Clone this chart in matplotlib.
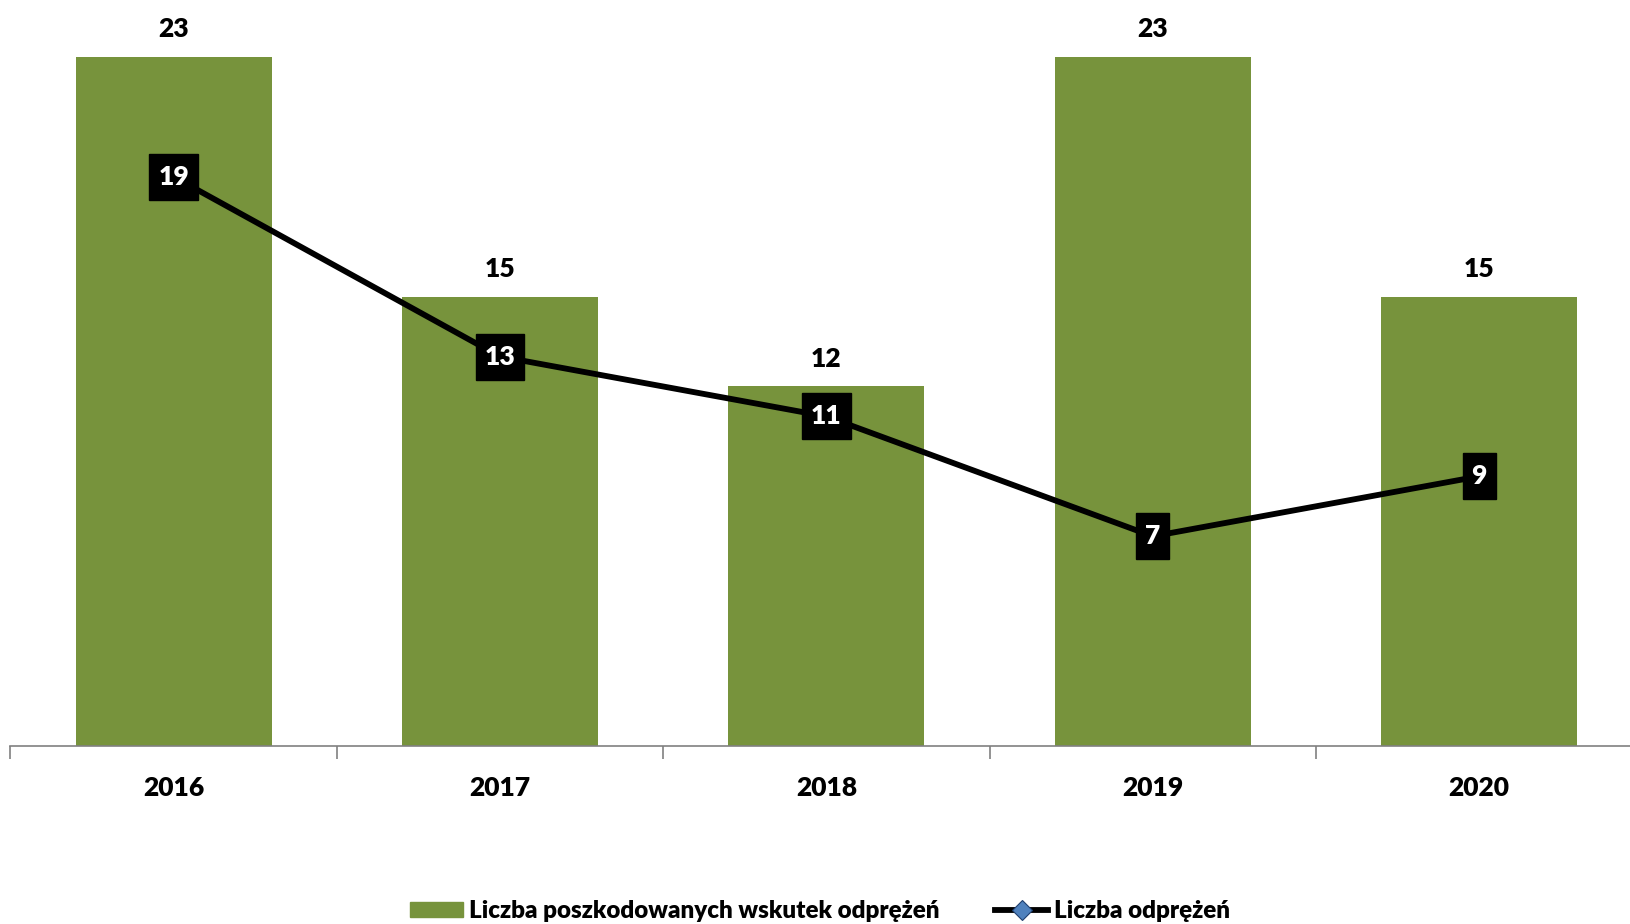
import matplotlib.pyplot as plt
from matplotlib.lines import Line2D
from matplotlib.patches import Patch
from matplotlib.path import Path
from matplotlib.transforms import Affine2D

plt.rcParams.update({"font.family": ["Lato", "DejaVu Sans"], "font.weight": "heavy"})

years = ["2016", "2017", "2018", "2019", "2020"]
poszkodowani = [23, 15, 12, 23, 15]
odprezenia = [19, 13, 11, 7, 9]

green = "#77933C"
W = "heavy"


def label_box(x0, y0, width, height, mutation_size):
    # black box around the line labels, taller than the text
    px, py = 9, 11
    return Path.unit_rectangle().transformed(
        Affine2D().scale(width + 2*px, height + 2*py).translate(x0 - px, y0 - py))


fig = plt.figure(figsize=(16.3, 9.24), dpi=100)
# axis runs slightly past the right edge, as in the original
ax = fig.add_axes([10.4/1630, 1-746/924, 1632/1630, 746/924])

x = range(len(years))
ax.bar(x, poszkodowani, width=0.6, color=green, zorder=1)
ax.plot(x, odprezenia, color="black", lw=4.2, marker="D", ms=8,
        mfc="#4F81BD", mec="#4F81BD", zorder=2)

for i, v in enumerate(poszkodowani):
    ax.annotate(str(v), (i, v), xytext=(0, 20), textcoords="offset points",
                ha="center", va="center", fontsize=19, fontweight=W)
for i, v in enumerate(odprezenia):
    ax.text(i, v, str(v), ha="center", va="center", color="white",
            fontsize=19, fontweight=W, zorder=3,
            bbox=dict(boxstyle=label_box, fc="black", ec="black"))

ax.set_xlim(-0.5, 4.5)
ax.set_ylim(0, 24.9)
ax.set_yticks([])
ax.set_xticks([i - 0.5 for i in range(5)])
ax.set_xticklabels([])
ax.tick_params(axis="x", length=9, color="#808080", width=1.2)
for i, y in enumerate(years):
    ax.text(i, -1.4, y, ha="center", va="center", fontsize=19, fontweight=W)

for s in ["top", "right", "left"]:
    ax.spines[s].set_visible(False)
ax.spines["bottom"].set_color("#808080")
ax.spines["bottom"].set_linewidth(1.2)

handles = [Patch(color=green),
           Line2D([], [], color="black", lw=4.2, marker="D", ms=10,
                  mfc="#4F81BD", mec="#1F3F6F", mew=0.8)]
labels = ["Liczba poszkodowanych wskutek odprężeń", "Liczba odprężeń"]
fig.legend(handles, labels, loc="center", bbox_to_anchor=(0.503, 1-911/924),
           ncol=2, frameon=False, columnspacing=2.3,
           handlelength=2.2, handleheight=0.55, handletextpad=0.25,
           prop={"weight": W, "size": 17.4})

fig.savefig("out.png", dpi=100)
